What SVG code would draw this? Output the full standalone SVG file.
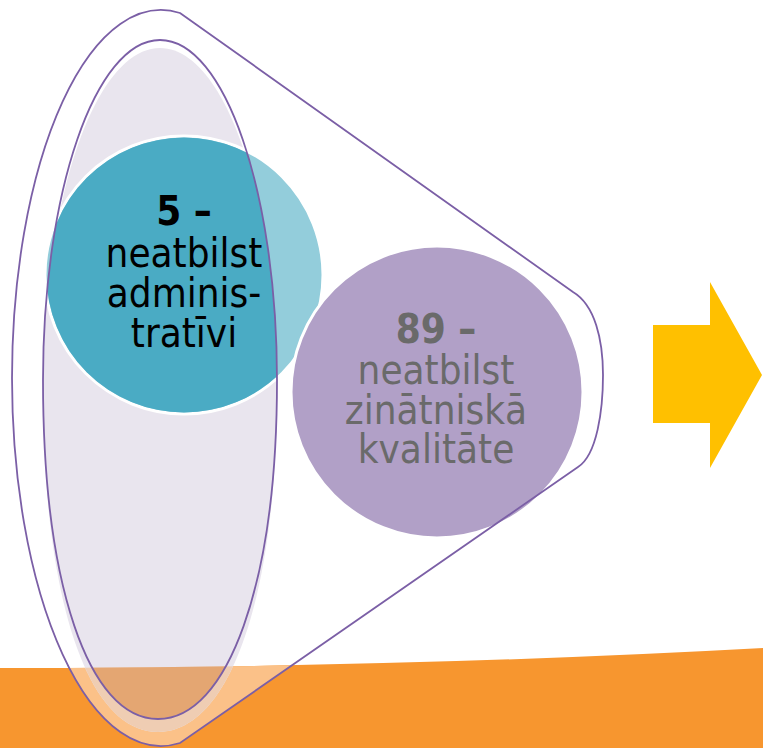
<svg xmlns="http://www.w3.org/2000/svg" width="763" height="748" viewBox="0 0 763 748">
  <style>
    .outline { fill: none; stroke: #7b5fa6; stroke-width: 1.8; }
    .lbl { font-family: "DejaVu Sans Condensed", "DejaVu Sans", sans-serif; font-size: 40px; text-anchor: middle; }
    .b { font-weight: bold; }
  </style>
  <defs>
    <path id="band" d="M0,668 Q400,668 763,648 L763,748 L0,748 Z"/>
    <path id="inner" d="M160,40 C224.6,40 277,192 277,380 C277,583 228,719 158,719 C88,719 43,583 43,380 C43,192 95.4,40 160,40 Z"/>
    <path id="lav" d="M160,48 C224,48 277,196 277,390 C277,595 230,732 158,732 C86,732 43,595 43,390 C43,196 96,48 160,48 Z"/>
    <path id="funnel" d="M180,13 L573,292 C595,305 603,340 603,375 C603,410 597,455 578,467 L180,743 A149 368 0 1 1 180,13 Z"/>
    <clipPath id="clipFunnel"><use href="#funnel"/></clipPath>
    <clipPath id="clipLav"><use href="#lav"/></clipPath>
    <clipPath id="clipInner"><use href="#inner"/></clipPath>
  </defs>
  <rect width="763" height="748" fill="#ffffff"/>

  <g id="background">
    <use href="#band" fill="#f7962f"/>
    <use href="#band" fill="#fbc188" clip-path="url(#clipFunnel)"/>
    <use href="#lav" fill="#e9e5ee"/>
    <use href="#band" fill="#efcdb3" clip-path="url(#clipLav)"/>
    <use href="#band" fill="#e4a672" clip-path="url(#clipInner)"/>
  </g>

  <g id="node-admin">
    <circle cx="184" cy="275" r="139" fill="#93cddb" stroke="#ffffff" stroke-width="3"/>
    <circle cx="184" cy="275" r="137.5" fill="#4aabc4" clip-path="url(#clipInner)"/>
    <text class="lbl" x="184" y="225" fill="#000000"><tspan class="b">5 –</tspan></text>
    <text class="lbl" x="184" y="267" fill="#000000">neatbilst</text>
    <text class="lbl" x="184" y="307" fill="#000000">adminis-</text>
    <text class="lbl" x="184" y="347" fill="#000000">tratīvi</text>
  </g>

  <g id="node-quality">
    <circle cx="437" cy="392" r="146" fill="#b1a0c7" stroke="#ffffff" stroke-width="3"/>
    <text class="lbl" x="436" y="343" fill="#6a6a6a"><tspan class="b">89 –</tspan></text>
    <text class="lbl" x="436" y="384" fill="#6a6a6a">neatbilst</text>
    <text class="lbl" x="436" y="424" fill="#6a6a6a">zinātniskā</text>
    <text class="lbl" x="436" y="463" fill="#6a6a6a">kvalitāte</text>
  </g>

  <g id="connectors">
    <use href="#funnel" class="outline"/>
    <use href="#inner" class="outline"/>
  </g>

  <g id="arrow">
    <polygon points="653,325 710,325 710,282 762,375 710,468 710,423 653,423" fill="#ffc000"/>
  </g>
</svg>
